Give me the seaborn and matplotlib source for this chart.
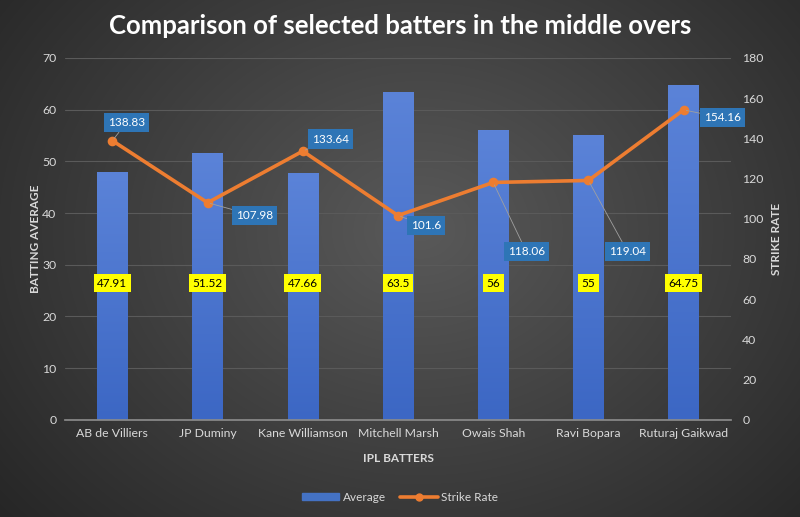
import matplotlib
matplotlib.use('Agg')
import numpy as np
import pandas as pd
import seaborn as sns
from matplotlib import pyplot as plt
from matplotlib.patches import Patch
from matplotlib.lines import Line2D
import matplotlib.transforms as mtransforms

# data
batters = ["AB de Villiers", "JP Duminy", "Kane Williamson", "Mitchell Marsh",
           "Owais Shah", "Ravi Bopara", "Ruturaj Gaikwad"]
average = [47.91, 51.52, 47.66, 63.5, 56, 55, 64.75]
strike_rate = [138.83, 107.98, 133.64, 101.6, 118.06, 119.04, 154.16]
avg_labels = ["47.91", "51.52", "47.66", "63.5", "56", "55", "64.75"]
sr_labels = ["138.83", "107.98", "133.64", "101.6", "118.06", "119.04", "154.16"]
# label offsets (pixels) for strike rate callouts
sr_offsets = [(14, 18), (47, -13), (28, 12), (28, -10), (33, -69), (39, -71), (39, -8)]

df = pd.DataFrame({"Batter": batters, "Average": average, "Strike Rate": strike_rate})

sns.set_theme(style="dark")
plt.rcParams['font.family'] = ['Lato', 'DejaVu Sans']

txt = '#d9d9d9'
blue = '#4472C4'
orange = '#ED7D31'

fig = plt.figure(figsize=(8, 5.17), dpi=100)

# radial dark background
bg = fig.add_axes([0, 0, 1, 1], zorder=-10)
yy, xx = np.mgrid[0:517, 0:800]
r = np.sqrt(((xx - 420) / 520.0) ** 2 + ((yy - 230) / 420.0) ** 2)
shade = np.clip(0.35 - 0.19 * r, 0.14, 0.35)
bg.imshow(np.dstack([shade, shade, shade]), aspect='auto', extent=[0, 1, 0, 1])
bg.axis('off')

ax = fig.add_axes([0.081, 0.188, 0.833, 0.70])
ax.set_facecolor('none')

sns.barplot(data=df, x="Batter", y="Average", color=blue, width=0.32,
            saturation=1, ax=ax, zorder=2, edgecolor='none', linewidth=0)

# vertical gradient on bars
grad = np.linspace(0, 1, 256).reshape(-1, 1)
cmap = matplotlib.colors.LinearSegmentedColormap.from_list('b', ['#3c67c4', '#5b83d8'])
for p in ax.patches:
    x0, y0 = p.get_x(), p.get_y()
    im = ax.imshow(grad, cmap=cmap, aspect='auto', origin='lower',
                   extent=[x0, x0 + p.get_width(), y0, y0 + p.get_height()], zorder=2)
    im.set_clip_path(p)

ax.set_xlim(-0.5, 6.5)
ax.set_ylim(0, 70)
ax.set_yticks(range(0, 71, 10))
ax.grid(axis='y', color='#5a5a5a', linewidth=0.8)
ax.grid(axis='x', visible=False)
for s in ['top', 'left', 'right']:
    ax.spines[s].set_visible(False)
ax.spines['bottom'].set_color('#8a8a8a')
ax.tick_params(colors=txt, labelsize=8.8, length=0, pad=6)
ax.set_xlabel("IPL BATTERS", color=txt, fontsize=8.5, fontweight='bold', labelpad=10)
ax.set_ylabel("BATTING AVERAGE", color=txt, fontsize=8.5, fontweight='bold', labelpad=1)

trans = mtransforms.blended_transform_factory(ax.transData, ax.transAxes)
for i, lab in enumerate(avg_labels):
    ax.text(i, 0.378, lab, transform=trans, ha='center', va='center', fontsize=8.5,
            color='black', zorder=5,
            bbox=dict(boxstyle='square,pad=0.3', fc='#ffff00', ec='none'))

ax2 = ax.twinx()
sns.pointplot(data=df, x="Batter", y="Strike Rate", color=orange, ax=ax2,
              markers='o', markersize=5, linewidth=2.6, zorder=4)
ax2.set_xlim(-0.5, 6.5)
ax2.set_ylim(0, 180)
ax2.set_yticks(range(0, 181, 20))
for s in ax2.spines.values():
    s.set_visible(False)
ax2.tick_params(colors=txt, labelsize=8.8, length=0, pad=8)
ax2.set_ylabel("STRIKE RATE", color=txt, fontsize=8.5, fontweight='bold', labelpad=5)
ax2.set_xlabel("")

for i, (lab, off) in enumerate(zip(sr_labels, sr_offsets)):
    ax2.annotate(lab, xy=(i, strike_rate[i]), xytext=off, textcoords='offset pixels',
                 ha='center', va='center', fontsize=8.5, color='white', zorder=6,
                 bbox=dict(boxstyle='square,pad=0.35', fc='#2e75b6', ec='none'),
                 arrowprops=dict(arrowstyle='-', color='#a0a0a0', lw=0.6,
                                 shrinkA=0, shrinkB=2))

fig.suptitle("Comparison of selected batters in the middle overs", color='white',
             fontsize=18.5, fontweight='bold', y=0.972)

handles = [Patch(color=blue, label='Average'),
           Line2D([], [], color=orange, lw=2.6, marker='o', markersize=5, label='Strike Rate')]
leg = fig.legend(handles=handles, loc='center', bbox_to_anchor=(0.5, 0.038), ncol=2,
                 frameon=False, fontsize=8.5, handlelength=3.2, handleheight=0.5,
                 columnspacing=1.2, handletextpad=0.3)
for t in leg.get_texts():
    t.set_color(txt)

fig.savefig("out.png", dpi=100)
